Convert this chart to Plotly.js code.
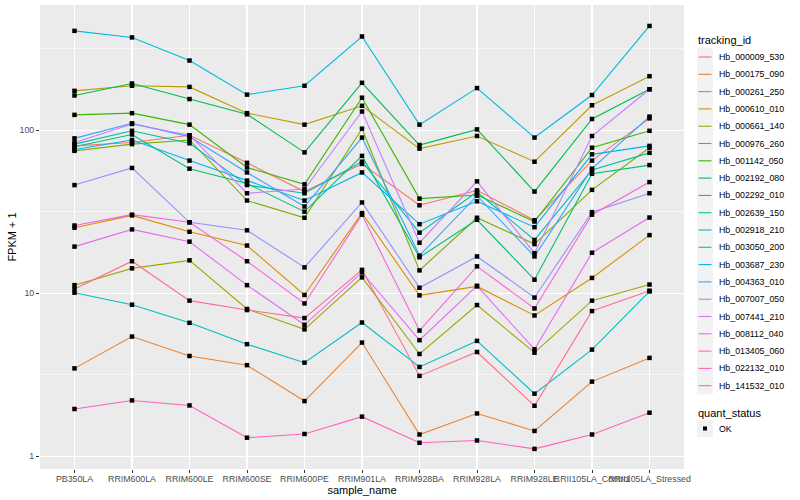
<!DOCTYPE html>
<html>
<head>
<meta charset="utf-8">
<script src="https://cdn.plot.ly/plotly-3.0.1.min.js"></script>
<style>html,body{margin:0;padding:0;background:#fff;}#chart{width:800px;height:500px;}</style>
</head>
<body>
<div id="chart"></div>
<script>
// Categories (x axis)
const samples = ['PB350LA','RRIM600LA','RRIM600LE','RRIM600SE','RRIM600PE','RRIM901LA','RRIM928BA','RRIM928LA','RRIM928LE','RRII105LA_Control','RRII105LA_Stressed'];

// FPKM + 1 values per tracking_id, in sample order
const Hb_000009_530 = [80, 84, 93, 63, 42, 62, 34.6, 42.7, 28, 65, 118];
const Hb_000175_090 = [3.46, 5.42, 4.12, 3.62, 2.18, 4.98, 1.36, 1.83, 1.43, 2.87, 4.01];
const Hb_000261_250 = [25.2, 30, 23.8, 19.6, 9.75, 31, 9.7, 11, 7.3, 12.4, 22.7];
const Hb_000610_010 = [174, 187, 184, 127, 108, 141, 77, 92, 64, 142, 214];
const Hb_000661_140 = [11.2, 14.2, 15.9, 8.0, 6.0, 12.5, 4.24, 8.46, 4.32, 9.0, 11.3];
const Hb_000976_260 = [74.6, 82, 87, 37, 29, 102, 13.8, 29, 20, 43, 78];
const Hb_001142_050 = [124, 127, 108, 59, 46.5, 158, 38, 40, 27.5, 78, 99];
const Hb_002192_080 = [163, 193, 155, 125, 73, 195, 81, 101, 42, 117, 178];
const Hb_002292_010 = [79, 94, 58, 47, 31.6, 69.5, 16.6, 28.2, 12.1, 54, 61];
const Hb_002639_150 = [82, 99, 83, 46, 41, 64, 23.5, 41.7, 21.2, 57, 72.5];
const Hb_002918_210 = [10.07, 8.5, 6.58, 4.87, 3.75, 6.61, 3.53, 5.1, 2.42, 4.51, 10.25];
const Hb_003050_200 = [406, 370, 267, 165, 187, 375, 108, 181, 90, 164, 435];
const Hb_003687_230 = [76, 87, 65, 49, 37, 55, 26.5, 36.6, 25.4, 71, 80];
const Hb_004363_010 = [89, 110, 91, 55, 34, 90, 17, 39.6, 16.8, 58, 121];
const Hb_007007_050 = [46, 58.6, 27.2, 24.3, 14.4, 36, 10.8, 16.8, 9.4, 31.4, 41];
const Hb_007441_210 = [84, 109, 93, 41, 43.5, 130, 20.4, 48.5, 17.6, 92, 178];
const Hb_008112_040 = [19.3, 24.6, 20.7, 11.2, 6.4, 13.4, 5.15, 11.1, 4.53, 17.7, 29.1];
const Hb_013405_060 = [26, 30.3, 27.2, 15.7, 8.65, 30.3, 5.9, 14.6, 8.06, 30.3, 48];
const Hb_022132_010 = [1.95, 2.2, 2.05, 1.30, 1.37, 1.75, 1.21, 1.25, 1.11, 1.36, 1.85];
const Hb_141532_010 = [10.6, 15.7, 9.0, 7.88, 7.04, 13.9, 3.11, 4.36, 2.04, 7.77, 10.36];

const trackingIds = ['Hb_000009_530','Hb_000175_090','Hb_000261_250','Hb_000610_010','Hb_000661_140','Hb_000976_260','Hb_001142_050','Hb_002192_080','Hb_002292_010','Hb_002639_150','Hb_002918_210','Hb_003050_200','Hb_003687_230','Hb_004363_010','Hb_007007_050','Hb_007441_210','Hb_008112_040','Hb_013405_060','Hb_022132_010','Hb_141532_010'];
const seriesValues = [Hb_000009_530,Hb_000175_090,Hb_000261_250,Hb_000610_010,Hb_000661_140,Hb_000976_260,Hb_001142_050,Hb_002192_080,Hb_002292_010,Hb_002639_150,Hb_002918_210,Hb_003050_200,Hb_003687_230,Hb_004363_010,Hb_007007_050,Hb_007441_210,Hb_008112_040,Hb_013405_060,Hb_022132_010,Hb_141532_010];
const palette = ['#F8766D','#EA8331','#D89000','#C09B00','#A3A500','#7CAE00','#39B600','#00BB4E','#00BF7D','#00C1A3','#00BFC4','#00BAE0','#00B0F6','#35A2FF','#9590FF','#C77CFF','#E76BF3','#FA62DB','#FF62BC','#FF6C91'];
const quantStatus = 'OK';

const FONT = 'Liberation Sans, Arial, Helvetica, sans-serif';
const W = 800, H = 500, ML = 40, MR = 116, MT = 5, MB = 31;
const PW = W - ML - MR, PH = H - MT - MB;
const xp = px => (px - ML) / PW;        // pixel -> paper x
const yp = py => (H - MB - py) / PH;    // pixel -> paper y

const traces = trackingIds.map((id, i) => ({
  type: 'scatter', mode: 'lines', name: id,
  x: samples, y: seriesValues[i],
  line: {color: palette[i], width: 1.1},
  showlegend: false, hoverinfo: 'name+y'
}));

// points layer (black squares, quant_status = OK)
const px = [], py = [];
seriesValues.forEach(v => v.forEach((val, j) => { px.push(samples[j]); py.push(val); }));
traces.push({
  type: 'scatter', mode: 'markers', name: quantStatus,
  x: px, y: py,
  marker: {color: '#000000', symbol: 'square', size: 4.5},
  showlegend: false
});

// ggplot-style legends drawn on the paper
const shapes = [], annotations = [];
const keyX0 = 697, keyX1 = 713, labelX = 716.5, step = 17.3, firstY = 57;
annotations.push({xref: 'paper', yref: 'paper', x: xp(695.5), y: yp(40.5), xanchor: 'left', yanchor: 'middle',
  text: 'tracking_id', showarrow: false, font: {family: FONT, size: 11, color: '#000000'}});
trackingIds.forEach((id, i) => {
  const cy = firstY + i * step;
  shapes.push({type: 'rect', xref: 'paper', yref: 'paper', x0: xp(keyX0), x1: xp(keyX1), y0: yp(cy - step / 2), y1: yp(cy + step / 2),
    fillcolor: '#F2F2F2', line: {width: 0}, layer: 'below'});
  shapes.push({type: 'line', xref: 'paper', yref: 'paper', x0: xp(keyX0 + 1.5), x1: xp(keyX1 - 1.5), y0: yp(cy), y1: yp(cy),
    line: {color: palette[i], width: 1.1}});
  annotations.push({xref: 'paper', yref: 'paper', x: xp(labelX), y: yp(cy), xanchor: 'left', yanchor: 'middle',
    text: id, showarrow: false, font: {family: FONT, size: 8.8, color: '#000000'}});
});
annotations.push({xref: 'paper', yref: 'paper', x: xp(695.5), y: yp(412.5), xanchor: 'left', yanchor: 'middle',
  text: 'quant_status', showarrow: false, font: {family: FONT, size: 11, color: '#000000'}});
const okY = 428.5;
shapes.push({type: 'rect', xref: 'paper', yref: 'paper', x0: xp(keyX0), x1: xp(keyX1), y0: yp(okY - step / 2), y1: yp(okY + step / 2),
  fillcolor: '#F2F2F2', line: {width: 0}, layer: 'below'});
shapes.push({type: 'rect', xref: 'paper', yref: 'paper', x0: xp(703), x1: xp(707), y0: yp(okY - 2), y1: yp(okY + 2),
  fillcolor: '#000000', line: {width: 0}});
annotations.push({xref: 'paper', yref: 'paper', x: xp(labelX), y: yp(okY), xanchor: 'left', yanchor: 'middle',
  text: quantStatus, showarrow: false, font: {family: FONT, size: 8.8, color: '#000000'}});

const layout = {
  width: W, height: H,
  margin: {l: ML, r: MR, t: MT, b: MB},
  paper_bgcolor: '#FFFFFF',
  plot_bgcolor: '#EBEBEB',
  font: {family: FONT, size: 11, color: '#000000'},
  xaxis: {
    type: 'category', range: [-0.6, 10.6],
    showgrid: true, gridcolor: '#FFFFFF', gridwidth: 1.1,
    zeroline: false, showline: false,
    ticks: 'outside', ticklen: 3, tickcolor: '#333333', tickwidth: 1,
    tickangle: 0, ticklabelstandoff: -2,
    tickfont: {family: FONT, size: 8.8, color: '#4D4D4D'},
    title: {text: 'sample_name', font: {family: FONT, size: 11, color: '#000000'}, standoff: 0},
    automargin: false
  },
  yaxis: {
    type: 'log', range: [-0.078, 2.767],
    tickmode: 'array', tickvals: [1, 10, 100], ticktext: ['1', '10', '100'],
    showgrid: true, gridcolor: '#FFFFFF', gridwidth: 1.1,
    minor: {tickmode: 'array', tickvals: [3.1623, 31.623, 316.23], showgrid: true, gridcolor: '#FFFFFF', gridwidth: 0.55, ticks: ''},
    zeroline: false, showline: false,
    ticks: 'outside', ticklen: 3, tickcolor: '#333333', tickwidth: 1,
    tickfont: {family: FONT, size: 8.8, color: '#4D4D4D'},
    title: {text: 'FPKM + 1', font: {family: FONT, size: 11, color: '#000000'}, standoff: 0},
    automargin: false
  },
  shapes: shapes,
  annotations: annotations,
  showlegend: false
};

Plotly.newPlot('chart', traces, layout, {displayModeBar: false, staticPlot: true});
</script>
</body>
</html>
